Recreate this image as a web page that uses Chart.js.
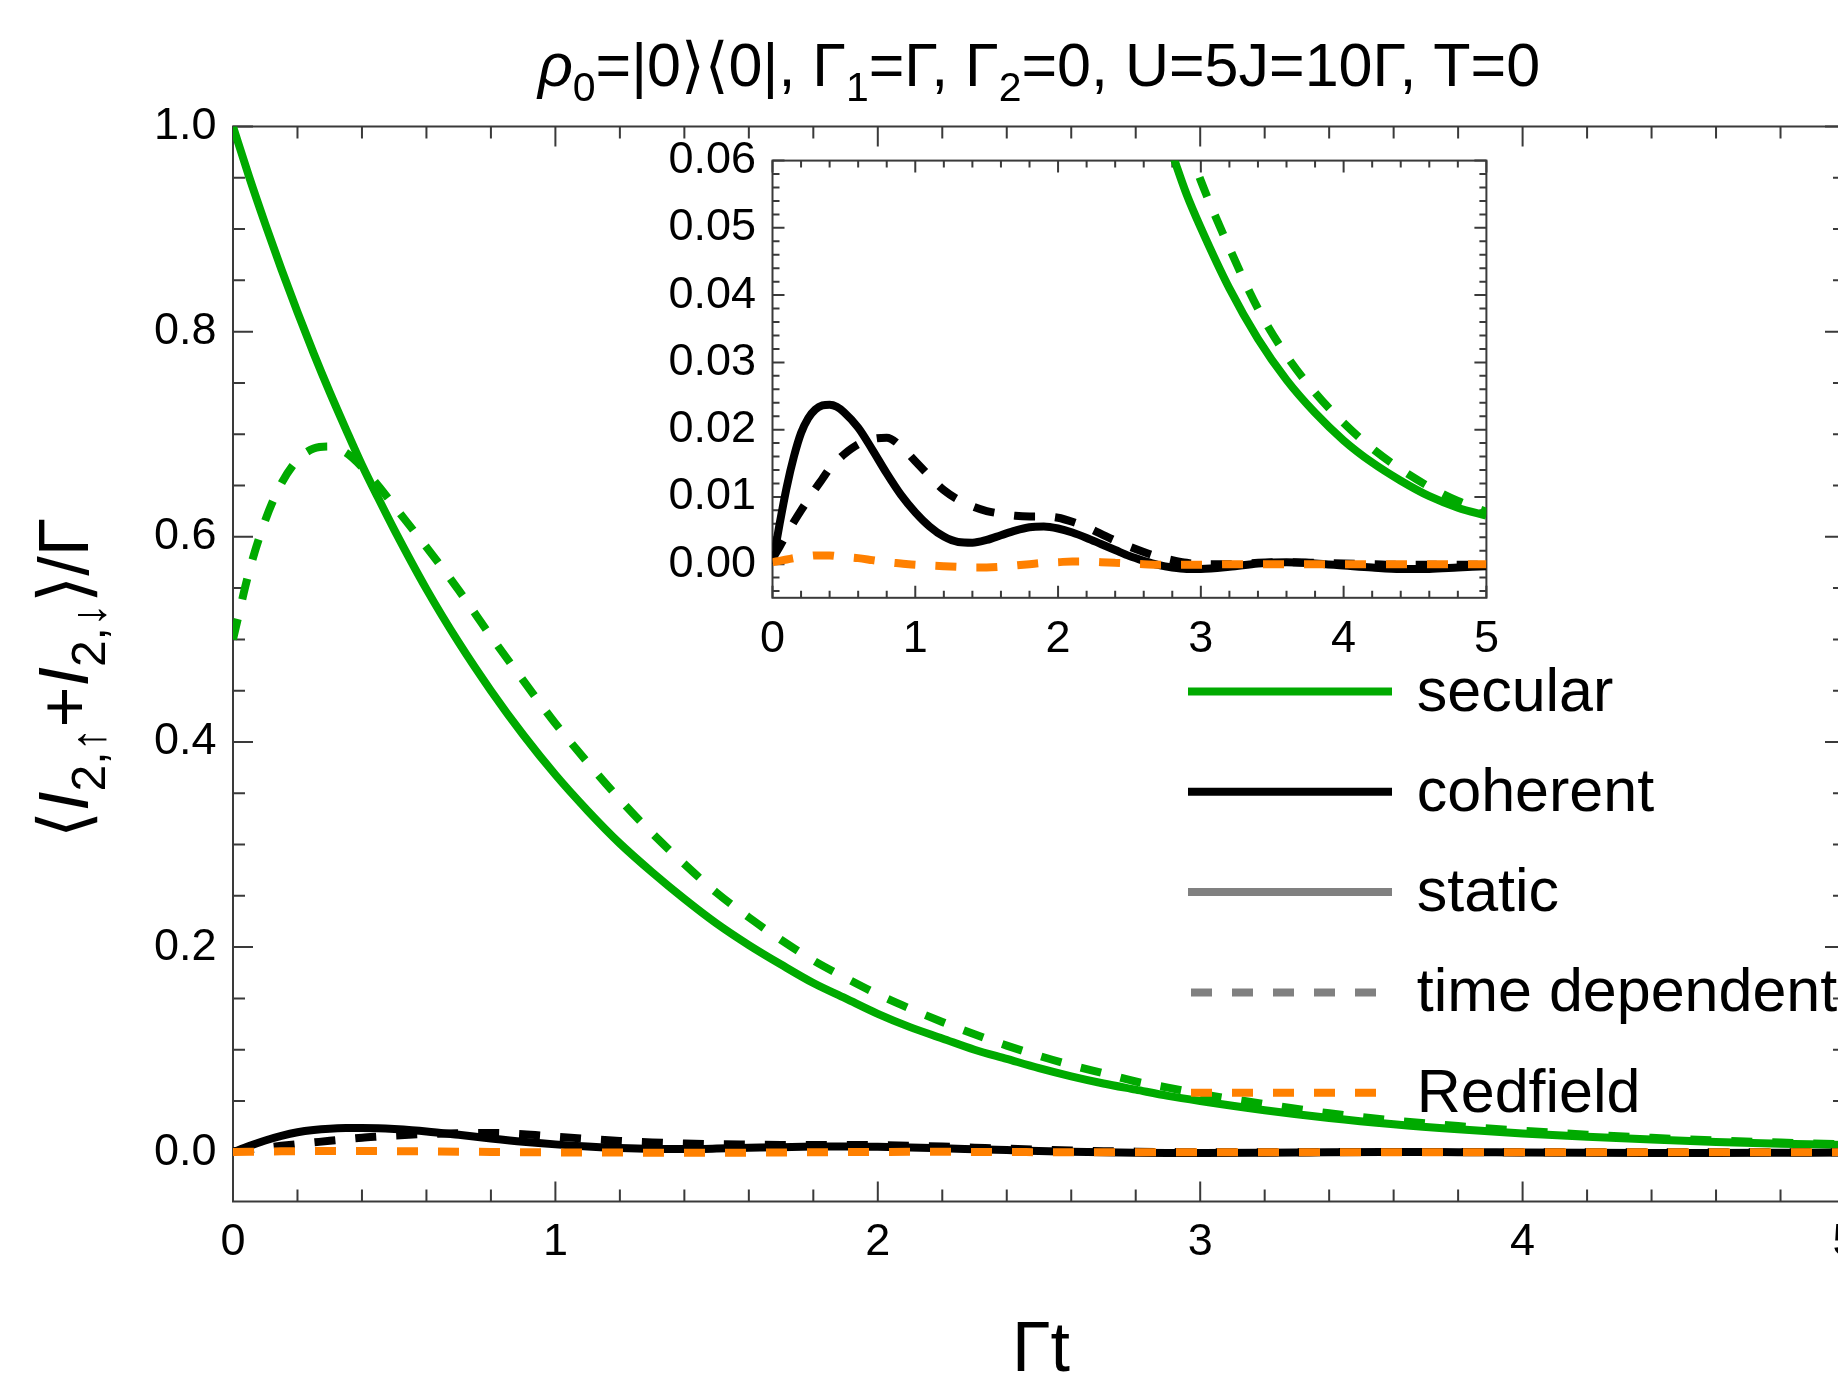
<!DOCTYPE html>
<html>
<head>
<meta charset="utf-8">
<script src="https://cdn.jsdelivr.net/npm/chart.js@4.4.0/dist/chart.umd.min.js"></script>
<style>
  html, body { margin: 0; padding: 0; background: #fff; overflow: hidden; }
  #wrap { position: relative; width: 1838px; height: 1385px; overflow: hidden; background: #fff; }
  #main { position: absolute; left: 0; top: 0; width: 1900px; height: 1385px; }
  #inset { position: absolute; left: 600px; top: 120px; width: 900px; height: 560px; }
</style>
</head>
<body>
<div id="wrap">
  <canvas id="main" width="1900" height="1385"></canvas>
  <canvas id="inset" width="900" height="560"></canvas>
</div>
<script>
// --- datos (Γt en el eje x) ---
const timeGrid = [0, 0.05, 0.1, 0.15, 0.2, 0.25, 0.3, 0.35, 0.4, 0.45, 0.5,
  0.6, 0.7, 0.8, 0.9, 1.0, 1.1, 1.2, 1.3, 1.4, 1.5, 1.6, 1.7, 1.8, 1.9, 2.0,
  2.1, 2.2, 2.3, 2.4, 2.5, 2.6, 2.7, 2.8, 2.9, 3.0,
  3.2, 3.4, 3.6, 3.8, 4.0, 4.2, 4.4, 4.6, 4.8, 5.0];

// secular, static (verde sólido)
const secularStatic = [1.000, 0.951, 0.905, 0.861, 0.819, 0.779, 0.741, 0.705, 0.670, 0.638, 0.607,
  0.549, 0.497, 0.450, 0.407, 0.368, 0.333, 0.301, 0.273, 0.247, 0.223, 0.202, 0.183, 0.165, 0.150, 0.135,
  0.122, 0.111, 0.100, 0.091, 0.082, 0.074, 0.067, 0.061, 0.055, 0.050,
  0.041, 0.0335, 0.0274, 0.0225, 0.0184, 0.0151, 0.0124, 0.0101, 0.0084, 0.0072];

// secular, time dependent (verde discontinuo)
const secularTD = [0.500, 0.566, 0.616, 0.652, 0.675, 0.686, 0.688, 0.682, 0.668, 0.650, 0.630,
  0.590, 0.548, 0.503, 0.460, 0.418, 0.380, 0.344, 0.311, 0.281, 0.253, 0.229, 0.207, 0.187, 0.170, 0.154,
  0.140, 0.127, 0.115, 0.104, 0.094, 0.085, 0.077, 0.069, 0.063, 0.057,
  0.047, 0.038, 0.031, 0.0255, 0.021, 0.0172, 0.0141, 0.0115, 0.0094, 0.0078];

// coherent, static (negro sólido)
const coherentStatic = [0.0000, 0.0060, 0.0115, 0.0160, 0.0195, 0.0217, 0.0230, 0.0236, 0.0237, 0.0234, 0.0226,
  0.0203, 0.0170, 0.0135, 0.0103, 0.0077, 0.0056, 0.0041, 0.0033, 0.0032, 0.0036, 0.0043, 0.0050, 0.0055, 0.0056, 0.0053,
  0.0047, 0.0039, 0.0030, 0.0021, 0.0012, 0.0005, -0.0001, -0.0005, -0.0007, -0.0007,
  -0.0004, 0.0001, 0.0003, 0.0001, -0.0002, -0.0005, -0.0007, -0.0007, -0.0005, -0.0003];

// coherent, time dependent (negro discontinuo)
const coherentTD = [0.0008, 0.0026, 0.0045, 0.0063, 0.0080, 0.0096, 0.0112, 0.0127, 0.0142, 0.0153, 0.0163,
  0.0178, 0.0186, 0.0188, 0.0175, 0.0153, 0.0131, 0.0110, 0.0096, 0.0086, 0.0079, 0.0075, 0.0072, 0.0071, 0.0071, 0.0069,
  0.0063, 0.0055, 0.0045, 0.0035, 0.0026, 0.0018, 0.0011, 0.0006, 0.0002, 0.0000,
  0.0000, 0.0002, 0.0003, 0.0002, 0.0001, 0.0000, -0.0001, -0.0001, -0.0001, -0.0001];

// Redfield (naranja discontinuo)
const redfield = [0.0003, 0.0005, 0.0007, 0.0009, 0.0011, 0.0012, 0.0013, 0.0013, 0.0013, 0.0012, 0.0011,
  0.0009, 0.0006, 0.0003, 0.0001, -0.0001, -0.0002, -0.0003, -0.0004, -0.0005, -0.0005, -0.0004, -0.0002, 0.0000, 0.0002, 0.0003,
  0.0004, 0.0004, 0.0003, 0.0002, 0.0001, 0.0000, -0.0001, -0.0001, -0.0001, -0.0001,
  0.0000, 0.0000, 0.0000, 0.0000, 0.0000, 0.0000, 0.0000, 0.0000, 0.0000, 0.0000];

// ticks
const mainXTicks = [0, 1, 2, 3, 4, 5];
const mainYTicks = [0, 0.2, 0.4, 0.6, 0.8, 1.0];
const insetXTicks = [0, 1, 2, 3, 4, 5];
const insetYTicks = [0, 0.01, 0.02, 0.03, 0.04, 0.05, 0.06];

const legendLabels = ['secular', 'coherent', 'static', 'time dependent', 'Redfield'];

const GREEN = '#00aa00';
const ORANGE = '#ff8000';
const GRAY = '#808080';
const BLACK = '#000000';
const FONT = '"Liberation Sans", Arial, "DejaVu Sans", sans-serif';
const DASH = [21, 20];

// ==========================================
// utilidades
// ==========================================
function pts(values) {
  return timeGrid.map((t, i) => ({ x: t, y: values[i] }));
}

function makeDatasets() {
  // el primero se dibuja encima
  return [
    { data: pts(redfield), borderColor: ORANGE, borderDash: DASH },
    { data: pts(coherentTD), borderColor: BLACK, borderDash: DASH },
    { data: pts(secularTD), borderColor: GREEN, borderDash: DASH },
    { data: pts(coherentStatic), borderColor: BLACK },
    { data: pts(secularStatic), borderColor: GREEN }
  ].map(d => Object.assign({
    borderWidth: 8, pointRadius: 0, fill: false, clip: 0,
    cubicInterpolationMode: 'monotone', borderCapStyle: 'butt'
  }, d));
}

function tickList(min, max, majors, step) {
  const out = majors.filter(v => v >= min - 1e-9 && v <= max + 1e-9).map(v => [v, true]);
  for (let i = Math.ceil(min / step - 1e-9); i * step <= max + 1e-9; i++) {
    const v = i * step;
    if (!majors.some(m => Math.abs(m - v) < step / 10)) out.push([v, false]);
  }
  return out;
}

// marco con ticks hacia dentro en los cuatro lados
const frameTicks = {
  id: 'frameTicks',
  beforeDatasetsDraw(chart, args, o) {
    const { ctx, chartArea: a, scales } = chart;
    const sx = scales.x, sy = scales.y;
    ctx.save();
    ctx.strokeStyle = '#3a3a3a';
    ctx.lineWidth = 2;
    ctx.strokeRect(a.left, a.top, a.right - a.left, a.bottom - a.top);
    ctx.beginPath();
    tickList(sx.min, sx.max, o.xMajor, o.xMinor).forEach(([v, big]) => {
      const p = sx.getPixelForValue(v), len = big ? o.majorLen : o.minorLen;
      ctx.moveTo(p, a.bottom); ctx.lineTo(p, a.bottom - len);
      ctx.moveTo(p, a.top); ctx.lineTo(p, a.top + len);
    });
    tickList(sy.min, sy.max, o.yMajor, o.yMinor).forEach(([v, big]) => {
      const p = sy.getPixelForValue(v), len = big ? o.majorLen : o.minorLen;
      ctx.moveTo(a.left, p); ctx.lineTo(a.left + len, p);
      ctx.moveTo(a.right, p); ctx.lineTo(a.right - len, p);
    });
    ctx.stroke();
    ctx.restore();
  }
};

// texto con subíndices / cursiva
function fontFor(p, size) {
  return (p.it ? 'italic ' : '') + (p.sub ? Math.round(size * 0.68) : size) + 'px ' + FONT;
}
function richWidth(ctx, parts, size) {
  let w = 0;
  parts.forEach(p => { ctx.font = fontFor(p, size); w += ctx.measureText(p.t).width; });
  return w;
}
function drawRich(ctx, parts, x, y, size) {
  let cx = x - richWidth(ctx, parts, size) / 2;
  ctx.textAlign = 'left';
  ctx.textBaseline = 'alphabetic';
  parts.forEach(p => {
    ctx.font = fontFor(p, size);
    ctx.fillText(p.t, cx, y + (p.sub ? size * 0.24 : 0));
    cx += ctx.measureText(p.t).width;
  });
}

const titleParts = [
  { t: 'ρ', it: true }, { t: '0', sub: true }, { t: '=|0⟩⟨0|, Γ' }, { t: '1', sub: true },
  { t: '=Γ, Γ' }, { t: '2', sub: true }, { t: '=0, U=5J=10Γ, T=0' }
];
const yTitleParts = [
  { t: '⟨' }, { t: 'I', it: true }, { t: '2,↑', sub: true }, { t: '+' },
  { t: 'I', it: true }, { t: '2,↓', sub: true }, { t: '⟩/Γ' }
];
const legendStyles = [
  { color: GREEN, dash: [] },
  { color: BLACK, dash: [] },
  { color: GRAY, dash: [] },
  { color: GRAY, dash: DASH },
  { color: ORANGE, dash: DASH }
];

const mainDecor = {
  id: 'mainDecor',
  afterDatasetsDraw(chart) {
    const { ctx, chartArea: a } = chart;
    ctx.save();
    ctx.fillStyle = '#000';
    const cx = (a.left + a.right) / 2;
    // título
    drawRich(ctx, titleParts, cx, 86, 61);
    // eje x
    drawRich(ctx, [{ t: 'Γt' }], cx + 2, 1371, 70);
    // eje y (rotado)
    ctx.save();
    ctx.translate(88, (a.top + a.bottom) / 2 + 14);
    ctx.rotate(-Math.PI / 2);
    drawRich(ctx, yTitleParts, 0, 0, 70);
    ctx.restore();
    // leyenda
    legendLabels.forEach((lab, i) => {
      const y = 691.5 + i * 100.3;
      const st = legendStyles[i];
      ctx.beginPath();
      ctx.strokeStyle = st.color;
      ctx.lineWidth = 8;
      ctx.lineCap = 'butt';
      ctx.setLineDash(st.dash);
      if (st.dash.length) { ctx.moveTo(1191, y); ctx.lineTo(1380, y); }
      else { ctx.moveTo(1188, y); ctx.lineTo(1392, y); }
      ctx.stroke();
      ctx.setLineDash([]);
      ctx.font = '61px ' + FONT;
      ctx.textAlign = 'left';
      ctx.textBaseline = 'alphabetic';
      ctx.fillText(lab, 1416.7, y + 19);
    });
    ctx.restore();
  }
};

function axisCfg(min, max, tickVals, fmt, pad, fitFn) {
  return {
    type: 'linear', min: min, max: max,
    grid: { display: false, drawTicks: false },
    border: { display: false },
    afterBuildTicks: s => { s.ticks = tickVals.map(v => ({ value: v })); },
    afterFit: fitFn,
    ticks: {
      autoSkip: false, maxRotation: 0, color: '#000', padding: pad,
      font: { family: 'Liberation Sans', size: 45 },
      callback: v => fmt(v)
    }
  };
}

// ==========================================
// gráfica principal
// ==========================================
new Chart(document.getElementById('main').getContext('2d'), {
  type: 'line',
  data: { datasets: makeDatasets() },
  options: {
    responsive: false, animation: false, devicePixelRatio: 1,
    layout: { padding: { top: 126.5, right: 55, left: 0, bottom: 0 } },
    plugins: {
      legend: { display: false }, tooltip: { enabled: false },
      frameTicks: { xMajor: mainXTicks, xMinor: 0.2, yMajor: mainYTicks, yMinor: 0.05, majorLen: 20, minorLen: 12 }
    },
    scales: {
      x: axisCfg(0, 5, mainXTicks, v => String(v), 14.5,
        s => { s.height = 183.5; s.paddingLeft = 0; s.paddingRight = 0; }),
      y: axisCfg(-0.048, 1.0, mainYTicks, v => v.toFixed(1), 16.5,
        s => { s.width = 233; s.paddingTop = 0; s.paddingBottom = 0; })
    }
  },
  plugins: [frameTicks, mainDecor]
});

// ==========================================
// recuadro (inset)
// ==========================================
new Chart(document.getElementById('inset').getContext('2d'), {
  type: 'line',
  data: { datasets: makeDatasets() },
  options: {
    responsive: false, animation: false, devicePixelRatio: 1,
    layout: { padding: { top: 40.6, right: 13.6, left: 0, bottom: 0 } },
    plugins: {
      legend: { display: false }, tooltip: { enabled: false },
      frameTicks: { xMajor: insetXTicks, xMinor: 0.2, yMajor: insetYTicks, yMinor: 0.002, majorLen: 12, minorLen: 7 }
    },
    scales: {
      x: axisCfg(0, 5, insetXTicks, v => String(v), 14.5,
        s => { s.height = 82.2; s.paddingLeft = 0; s.paddingRight = 0; }),
      y: axisCfg(-0.005, 0.06, insetYTicks, v => v.toFixed(2), 16.5,
        s => { s.width = 172.5; s.paddingTop = 0; s.paddingBottom = 0; })
    }
  },
  plugins: [frameTicks]
});
</script>
</body>
</html>
